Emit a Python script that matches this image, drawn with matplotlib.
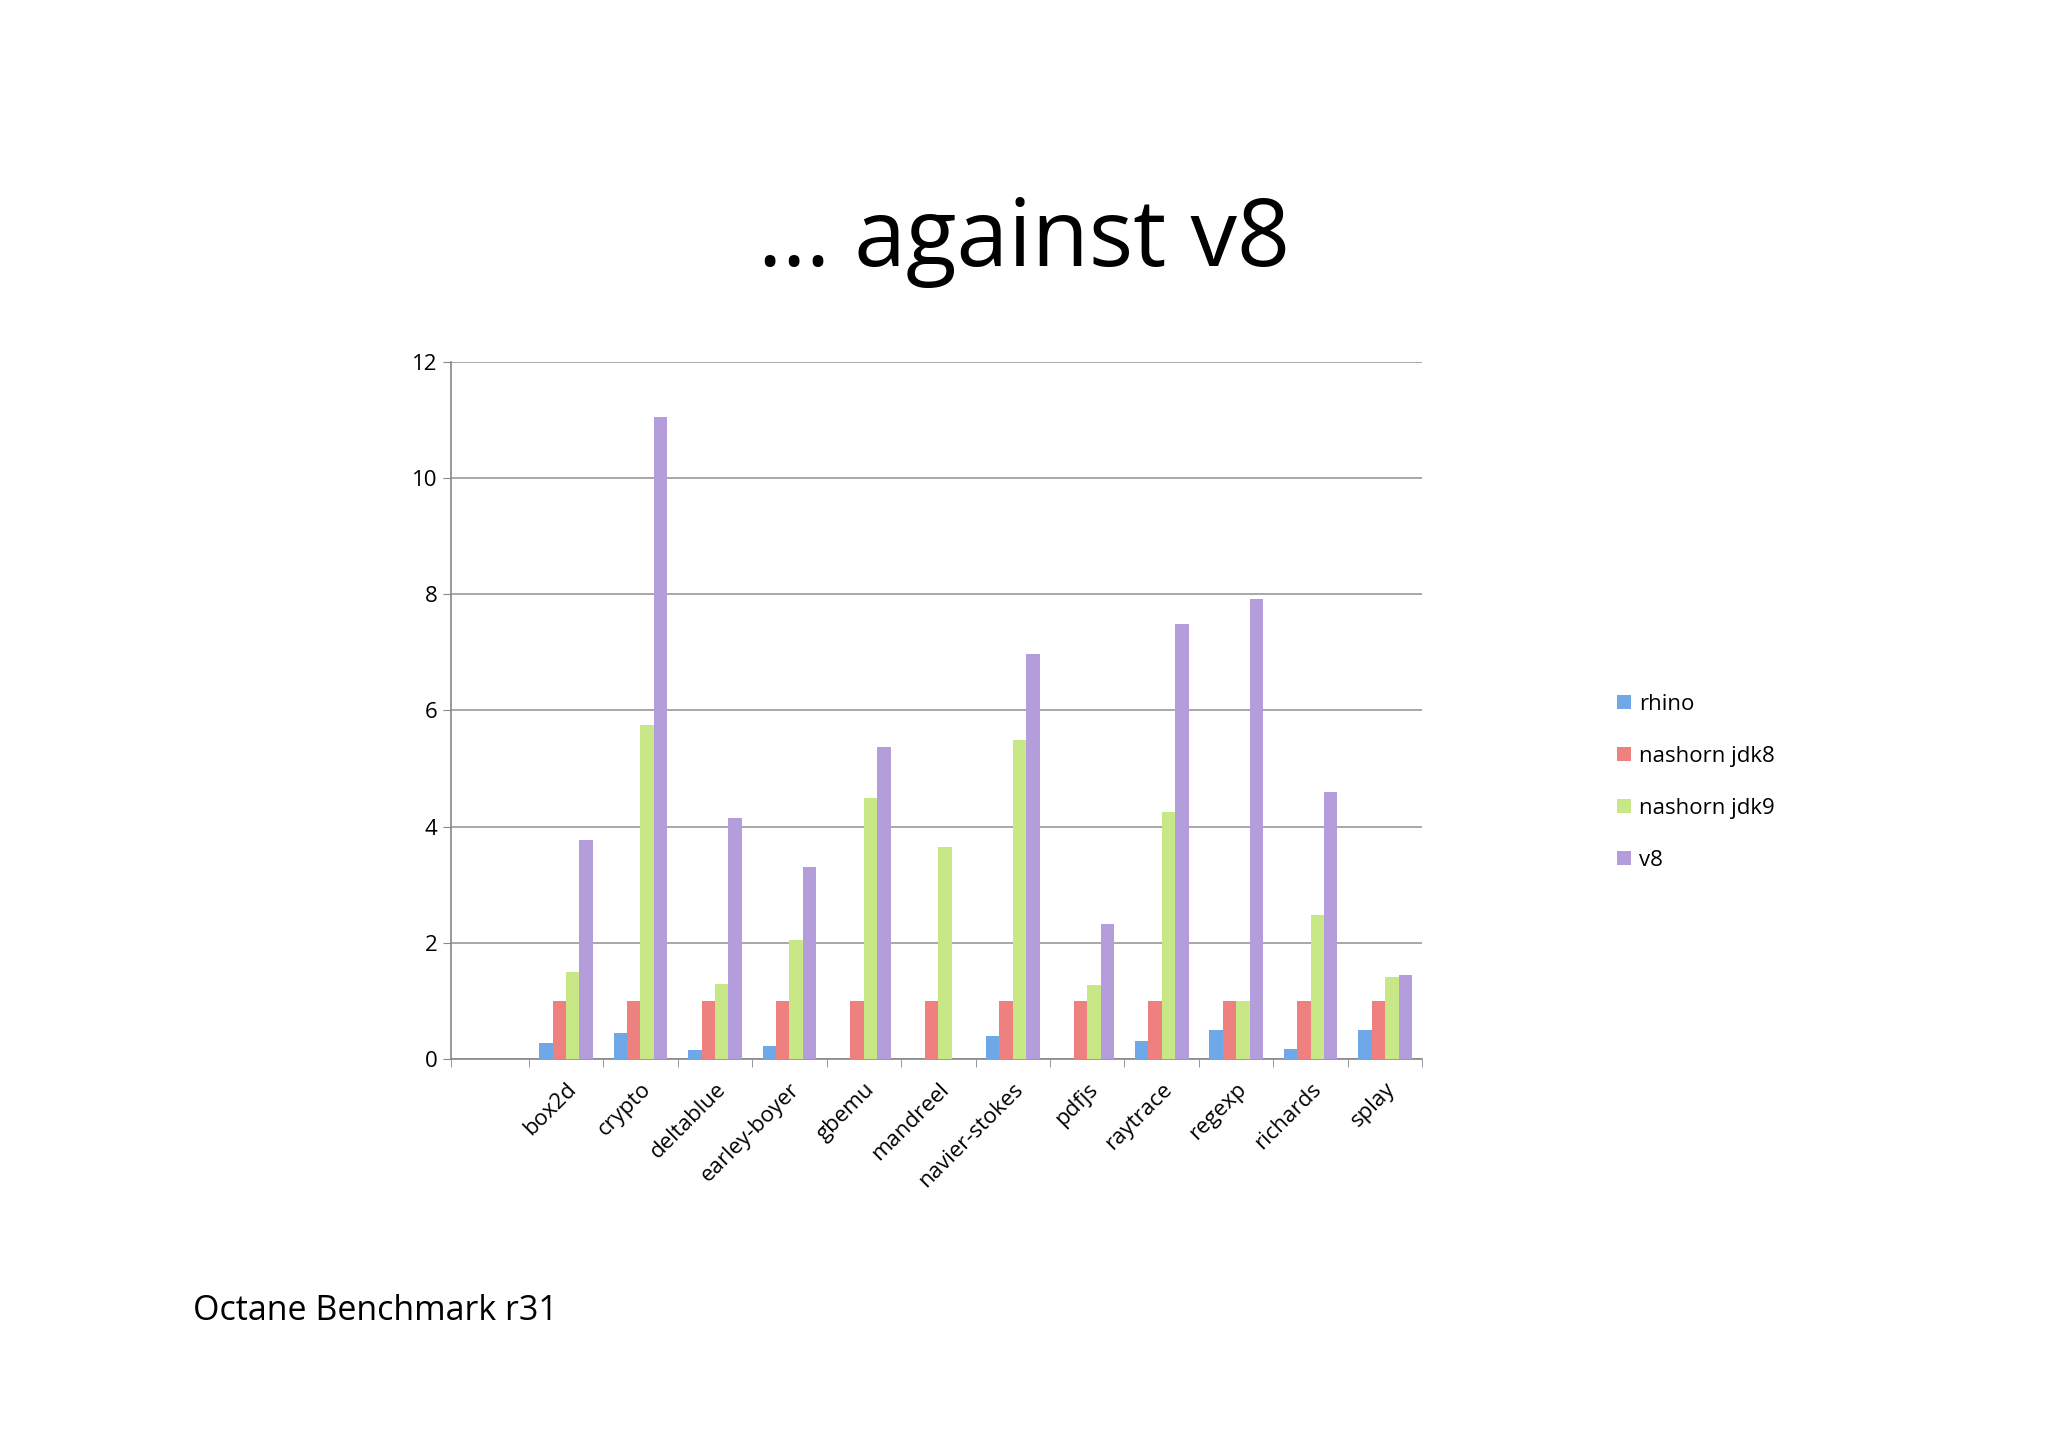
import matplotlib
matplotlib.use("Agg")
import matplotlib.pyplot as plt
import numpy as np

plt.rcParams['font.family'] = ['Open Sans', 'DejaVu Sans']

categories = ["box2d", "crypto", "deltablue", "earley-boyer", "gbemu", "mandreel",
              "navier-stokes", "pdfjs", "raytrace", "regexp", "richards", "splay"]
series = ["rhino", "nashorn jdk8", "nashorn jdk9", "v8"]
rhino = [0.28, 0.45, 0.15, 0.22, 0, 0, 0.40, 0, 0.32, 0.50, 0.18, 0.50]
jdk8 = [1, 1, 1, 1, 1, 1, 1, 1, 1, 1, 1, 1]
jdk9 = [1.5, 5.75, 1.3, 2.05, 4.5, 3.65, 5.5, 1.28, 4.25, 1.0, 2.48, 1.42]
v8 = [3.78, 11.05, 4.15, 3.3, 5.38, 0, 6.97, 2.33, 7.48, 7.92, 4.6, 1.45]
yticks = [0, 2, 4, 6, 8, 10, 12]
colors = ["#6fa8e8", "#ee8080", "#c8e888", "#b39ddb"]

fig = plt.figure(figsize=(20.48, 14.47), dpi=100)
ax = fig.add_axes([0.22, 0.268, 0.4745, 0.482])

x = np.arange(1, len(categories) + 1)
w = 0.18
for i, (vals, c, name) in enumerate(zip([rhino, jdk8, jdk9, v8], colors, series)):
    ax.bar(x + (i - 1.5) * w, vals, w, color=c, label=name, zorder=3)

ax.set_xlim(-0.55, len(categories) + 0.5)
ax.set_ylim(0, 12)
ax.set_yticks(yticks)
ax.yaxis.grid(True, color="#999999", linewidth=1.2, zorder=0)
ax.set_xticks(x)
ax.set_xticklabels(categories, rotation=45, ha="right", rotation_mode="anchor", fontsize=16)
ax.tick_params(axis="x", length=0, pad=14)
ax.tick_params(axis="y", length=6, labelsize=16, color="#888888")
ax.set_xticks(list(np.arange(0.5, len(categories) + 0.6, 1.0)) + [-0.55], minor=True)
ax.tick_params(axis="x", which="minor", length=6, color="#888888", direction="out")
for s in ["top", "right"]:
    ax.spines[s].set_visible(False)
for s in ["left", "bottom"]:
    ax.spines[s].set_color("#888888")
    ax.spines[s].set_linewidth(1.2)

ax.legend(loc="center left", bbox_to_anchor=(1.18, 0.397), frameon=False, fontsize=16,
          handlelength=0.6, handleheight=0.6, handletextpad=0.4, labelspacing=1.4)

fig.text(0.5, 0.833, "… against v8", ha="center", va="center", fontsize=67)
fig.text(0.094, 0.094, "Octane Benchmark r31", ha="left", va="center", fontsize=24.5)

fig.savefig("out.png", dpi=100)
